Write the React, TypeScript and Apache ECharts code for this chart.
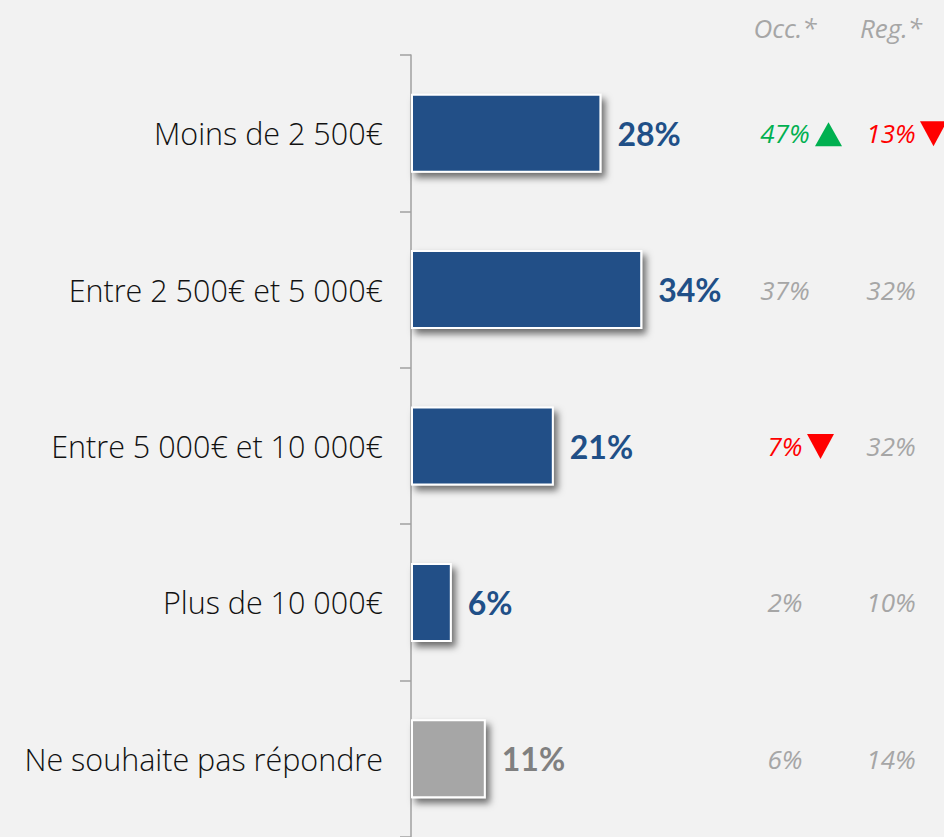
import React, { useEffect, useRef } from "react";
import * as echarts from "echarts";

const categories = [
  "Moins de 2 500€",
  "Entre 2 500€ et 5 000€",
  "Entre 5 000€ et 10 000€",
  "Plus de 10 000€",
  "Ne souhaite pas répondre",
];
const values = [28, 34, 21, 6, 11];
const occValues = ["47%", "37%", "7%", "2%", "6%"];
const occTrend = ["up", "", "down", "", ""];
const regValues = ["13%", "32%", "32%", "10%", "14%"];
const regTrend = ["down", "", "", "", ""];
const columnHeaders = ["Occ.*", "Reg.*"];

const BLUE = "#204f87";
const GREYBAR = "#a6a6a6";
const GREYTXT = "#a6a6a6";
const GREEN = "#00b050";
const RED = "#ff0000";

export default function App() {
  const ref = useRef<HTMLDivElement>(null);
  useEffect(() => {
    const chart = echarts.init(ref.current!, null, { renderer: "svg" });
    const trendColor = (t: string) => (t === "up" ? GREEN : t === "down" ? RED : GREYTXT);
    const colX = [785, 891];
    const colFont = "italic 26px 'Open Sans'";
    chart.setOption({
      animation: false,
      backgroundColor: "#f2f2f2",
      grid: { left: 411, top: 55, width: 340, bottom: -3, containLabel: false },
      xAxis: { type: "value", min: 0, max: 50, show: false },
      yAxis: {
        type: "category",
        inverse: true,
        data: categories,
        axisLine: { show: true, lineStyle: { color: "#a0a0a0", width: 1.5 } },
        axisTick: { show: true, length: 11, lineStyle: { color: "#a0a0a0", width: 1.5 } },
        axisLabel: {
          margin: 28,
          color: "#111111",
          fontFamily: "Open Sans",
          fontWeight: 300,
          fontSize: 30.5,
        },
      },
      graphic: columnHeaders.map((h, k) => ({
        type: "text",
        x: colX[k],
        y: 28,
        style: {
          text: h,
          fill: GREYTXT,
          font: colFont,
          textAlign: "center",
          textVerticalAlign: "middle",
        },
      })),
      series: [
        {
          type: "bar",
          barWidth: 79,
          data: values.map((v, i) => ({
            value: v,
            itemStyle: {
              color: i === 4 ? GREYBAR : BLUE,
            },
            label: { color: i === 4 ? "#808080" : BLUE },
          })),
          itemStyle: {
            borderColor: "#ffffff",
            borderWidth: 2,
            shadowColor: "rgba(0,0,0,0.55)",
            shadowBlur: 7,
            shadowOffsetX: 4,
            shadowOffsetY: 5,
          },
          label: {
            show: true,
            position: "right",
            distance: 16,
            formatter: "{c}%",
            fontFamily: "Lato",
            fontWeight: "bold",
            fontSize: 32,
          },
        },
        {
          type: "custom",
          data: categories.map((_, i) => [0, i]),
          encode: { x: 0, y: 1 },
          silent: true,
          renderItem: (params: any, api: any) => {
            const i = params.dataIndex;
            const y = api.coord([0, i])[1];
            const children: any[] = [];
            const cols = [
              { text: occValues[i], t: occTrend[i], x: colX[0] },
              { text: regValues[i], t: regTrend[i], x: colX[1] },
            ];
            cols.forEach((c) => {
              children.push({
                type: "text",
                x: c.x,
                y: y,
                style: {
                  text: c.text,
                  fill: trendColor(c.t),
                  font: colFont,
                  textAlign: "center",
                  textVerticalAlign: "middle",
                },
              });
              const tx = c.x + (c.text.length === 2 ? 22 : 29);
              if (c.t === "up") {
                children.push({
                  type: "polygon",
                  shape: { points: [[tx + 1, y + 13], [tx + 28, y + 13], [tx + 14.5, y - 11]] },
                  style: { fill: GREEN },
                });
              } else if (c.t === "down") {
                children.push({
                  type: "polygon",
                  shape: { points: [[tx, y - 12], [tx + 27, y - 12], [tx + 13.5, y + 13]] },
                  style: { fill: RED },
                });
              }
            });
            return { type: "group", children };
          },
        },
      ],
    });
    return () => chart.dispose();
  }, []);
  return (
    <div
      ref={ref}
      style={{ position: "fixed", left: 0, top: 0, width: 944, height: 837, background: "#f2f2f2" }}
    />
  );
}
